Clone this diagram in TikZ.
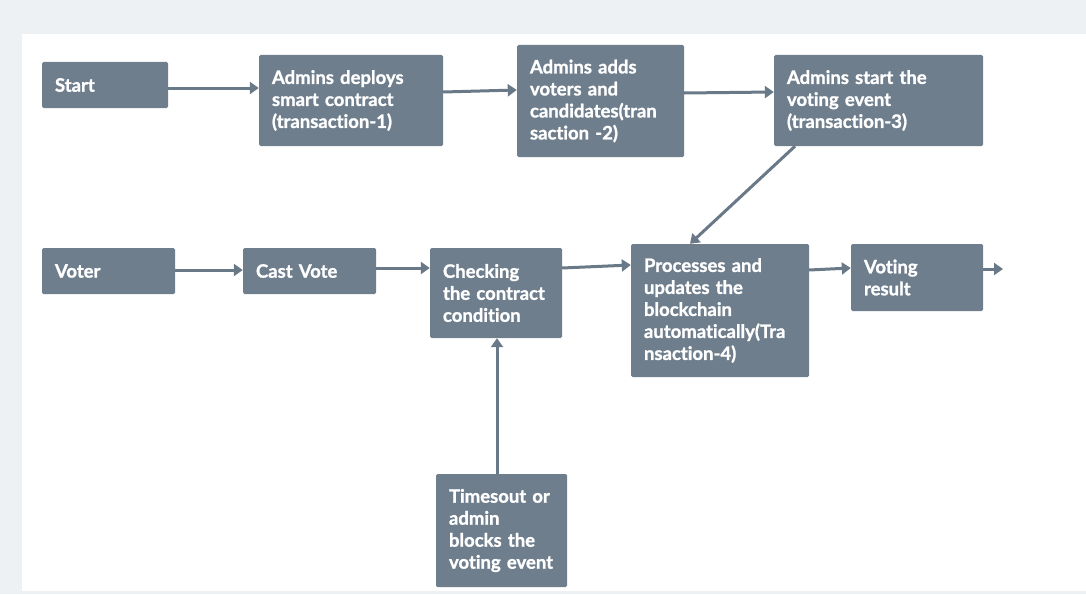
\documentclass[tikz,border=0pt]{standalone}
\usepackage{fontspec}
\setmainfont{Lato}[Ligatures={NoCommon}, BoldFeatures={FakeBold=1.3}]
\usetikzlibrary{arrows.meta}
\definecolor{boxc}{HTML}{6E7E8D}
\definecolor{arrc}{HTML}{6A7988}
\definecolor{bgc}{HTML}{EEF1F4}
\tikzset{
  fbox/.style={fill=boxc, rounded corners=1.5pt, draw=none, text=white,
    font=\fontsize{18.5}{22}\selectfont\bfseries, align=left,
    inner xsep=13pt, inner ysep=2pt},
  arr/.style={draw=arrc, line width=3pt, -{Triangle[width=12pt,length=9pt]}}
}
\newcommand{\bx}[7]{% name, left, top, right, bottom, text
  \node[fbox, minimum width=#4-#2, minimum height=#5-#3, text width=#4-#2-26pt]
    (#1) at ({(#2+#4)/2},{(#3+#5)/2}) {#6};}
\begin{document}
\begin{tikzpicture}[x=1pt,y=-1pt]
\fill[bgc] (0,0) rectangle (1086,594);
\fill[white] (22,34) rectangle (1086,591);
\useasboundingbox (0,0) rectangle (1086,594);
\bx{start}{42}{62}{168}{108}{Start}{}
\bx{deploy}{259}{55}{443}{146}{Admins deploys\\smart contract\\(transaction-1)}{}
\bx{adds}{517}{45}{684}{157}{Admins adds\\voters and\\candidates(tran\\saction -2)}{}
\bx{event}{774}{55}{983}{146}{Admins start the\\voting event\\(transaction-3)}{}
\bx{voter}{42}{248}{175}{294}{Voter}{}
\bx{cast}{243}{248}{376}{294}{Cast Vote}{}
\bx{check}{430}{248}{562}{338}{Checking\\the contract\\condition}{}
\bx{proc}{631}{244}{809}{377}{Processes and\\updates the\\blockchain\\automatically(Tra\\nsaction-4)}{}
\bx{result}{851}{244}{983}{311}{Voting\\result}{}
\bx{timeout}{436}{474}{567}{587}{Timesout or\\admin\\blocks the\\voting event}{}
\coordinate (endR) at (1003,269);
\draw[arr] (start.east |- 0,88) -- (deploy.west |- 0,88);
\draw[arr] (deploy.east |- 0,92) -- (adds.west |- 0,90);
\draw[arr] (adds.east |- 0,93) -- (event.west |- 0,92);
\draw[arr] (event.south -| 795,0) -- (proc.north -| 690,0);
\draw[arr] (voter.east |- 0,270) -- (cast.west |- 0,270);
\draw[arr] (cast.east |- 0,268) -- (check.west |- 0,268);
\draw[arr] (check.east |- 0,268) -- (proc.west |- 0,265);
\draw[arr] (proc.east |- 0,270) -- (result.west |- 0,268);
\draw[arr] (result.east |- 0,269) -- (endR);
\draw[arr] (timeout.north -| 497,0) -- (check.south -| 497,0);
\end{tikzpicture}
\end{document}
